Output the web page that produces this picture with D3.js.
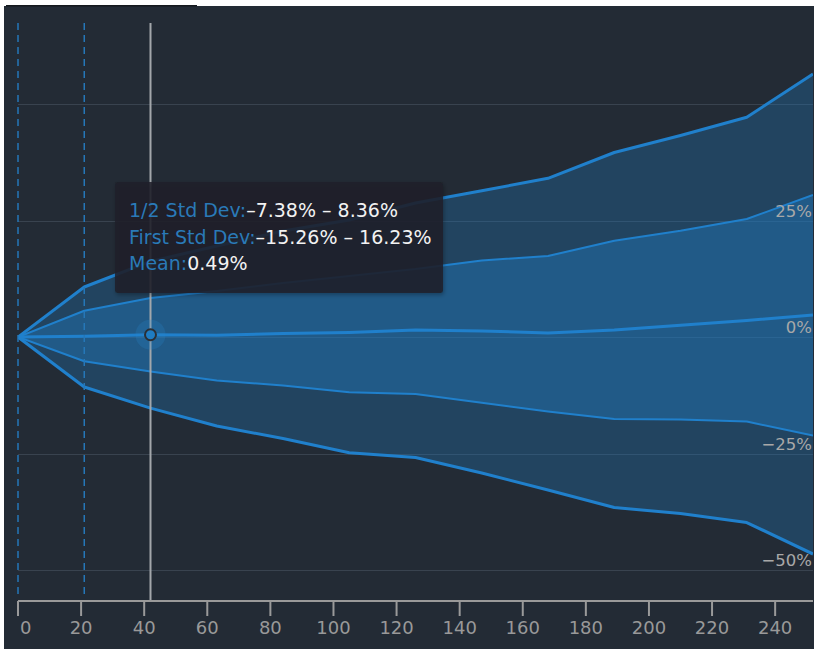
<!DOCTYPE html>
<html>
<head>
<meta charset="utf-8">
<script src="https://cdn.jsdelivr.net/npm/d3@7"></script>
<style>
  html, body { margin: 0; padding: 0; background: #ffffff; }
  svg { display: block; font-family: "DejaVu Sans", sans-serif; }
</style>
</head>
<body>
<svg id="chart" width="814" height="649"></svg>
<script>
// ---- Data (trading days, % returns) ----
const days = [0, 21, 42, 63, 84, 105, 126, 147, 168, 189, 210, 231, 252];
const firstStdUpper = [0, 10.73, 16.23, 19.53, 22.75, 25.11, 28.76, 31.39, 34.06, 39.6, 43.24, 47.15, 56.44];
const halfStdUpper  = [0, 5.64, 8.36, 9.87, 11.59, 13.09, 14.59, 16.42, 17.38, 20.67, 22.81, 25.32, 30.47];
const meanValues    = [0, 0.17, 0.49, 0.36, 0.75, 0.97, 1.50, 1.29, 0.86, 1.50, 2.51, 3.54, 4.72];
const halfStdLower  = [0, -5.21, -7.38, -9.33, -10.41, -11.87, -12.23, -14.10, -15.99, -17.60, -17.70, -18.13, -21.14];
const firstStdLower = [0, -10.73, -15.26, -19.10, -21.78, -24.83, -25.86, -29.18, -32.83, -36.59, -37.88, -39.81, -46.57];

const xTicks = [0, 20, 40, 60, 80, 100, 120, 140, 160, 180, 200, 220, 240];
const yGridTicks = [-50, -25, 0, 25, 50];
const yLabelTicks = [-50, -25, 0, 25];
const markerDays = [0, 21];
const hoverIndex = 2;

// ---- Layout ----
const W = 814, H = 649;
const plot = { left: 18, right: 813, top: 22, bottom: 601 };

const svg = d3.select("#chart");

// background
svg.append("rect").attr("x", 4).attr("y", 6).attr("width", W - 4).attr("height", H - 6).attr("fill", "#232b35");
svg.append("rect").attr("x", 6).attr("y", 5).attr("width", 191).attr("height", 1.5).attr("fill", "#15191e");

const x = d3.scaleLinear().domain([0, 252]).range([plot.left, plot.right]);
const y = d3.scaleLinear().domain([-56.65, 67.6]).range([plot.bottom, plot.top]);

const rows = days.map((d, i) => ({
  d, fu: firstStdUpper[i], hu: halfStdUpper[i], m: meanValues[i], hl: halfStdLower[i], fl: firstStdLower[i]
}));

// gridlines
svg.append("g").selectAll("line").data(yGridTicks).join("line")
  .attr("x1", plot.left).attr("x2", plot.right)
  .attr("y1", v => Math.round(y(v)) + 0.5).attr("y2", v => Math.round(y(v)) + 0.5)
  .attr("stroke", "#39434f").attr("stroke-width", 1.2);

const defs = svg.append("defs");
defs.append("clipPath").attr("id", "clip")
  .append("rect").attr("x", plot.left).attr("y", plot.top)
  .attr("width", plot.right - plot.left).attr("height", plot.bottom - plot.top);

const g = svg.append("g").attr("clip-path", "url(#clip)");

const lineColor = "#2080cc";

// outer band
g.append("path").datum(rows)
  .attr("d", d3.area().x(r => x(r.d)).y0(r => y(r.fl)).y1(r => y(r.fu)))
  .attr("fill", "rgba(33,125,196,0.30)");
// inner band
g.append("path").datum(rows)
  .attr("d", d3.area().x(r => x(r.d)).y0(r => y(r.hl)).y1(r => y(r.hu)))
  .attr("fill", "rgba(33,125,196,0.40)");

const mkLine = key => d3.line().x(r => x(r.d)).y(r => y(r[key]));
[["fu", 3], ["fl", 3], ["hu", 2], ["hl", 2], ["m", 3]].forEach(([k, w]) => {
  g.append("path").datum(rows).attr("d", mkLine(k))
    .attr("fill", "none").attr("stroke", lineColor).attr("stroke-width", w)
    .attr("stroke-linejoin", "round");
});

// dashed vertical markers
svg.append("g").selectAll("line").data(markerDays).join("line")
  .attr("x1", d => x(d)).attr("x2", d => x(d))
  .attr("y1", 23).attr("y2", 595)
  .attr("stroke", "#2577b8").attr("stroke-width", 1.5)
  .attr("stroke-dasharray", "7,5");

// crosshair
const hx = x(days[hoverIndex]);
svg.append("line").attr("x1", hx).attr("x2", hx).attr("y1", 23).attr("y2", plot.bottom)
  .attr("stroke", "#a3a7ab").attr("stroke-width", 2);

// hover marker
const hy = y(meanValues[hoverIndex]);
svg.append("circle").attr("cx", hx).attr("cy", hy).attr("r", 15).attr("fill", "rgba(40,130,200,0.25)");
svg.append("circle").attr("cx", hx).attr("cy", hy).attr("r", 5.5)
  .attr("fill", "#1f7cc2").attr("stroke", "#2b2f35").attr("stroke-width", 2);

// x axis
const axisG = svg.append("g");
axisG.append("line").attr("x1", plot.left).attr("x2", plot.right)
  .attr("y1", plot.bottom).attr("y2", plot.bottom)
  .attr("stroke", "#9a9a9a").attr("stroke-width", 2);
axisG.selectAll("line.tick").data(xTicks).join("line").attr("class", "tick")
  .attr("x1", d => x(d)).attr("x2", d => x(d))
  .attr("y1", plot.bottom).attr("y2", plot.bottom + 15)
  .attr("stroke", "#9a9a9a").attr("stroke-width", 2);
axisG.selectAll("text").data(xTicks).join("text")
  .attr("x", d => d === 0 ? x(d) + 2 : x(d))
  .attr("y", 634)
  .attr("text-anchor", d => d === 0 ? "start" : "middle")
  .attr("fill", "#999999").attr("font-size", 18)
  .text(d => d);

// y labels (right, inside)
const fmtPct = v => (v < 0 ? "\u2212" + Math.abs(v) : v) + "%";
svg.append("g").selectAll("text").data(yLabelTicks).join("text")
  .attr("x", 812).attr("y", v => y(v) - 4)
  .attr("text-anchor", "end")
  .attr("fill", "#a8a8a8").attr("font-size", 16.5)
  .text(fmtPct);

// tooltip
const tt = svg.append("g");
const filt = defs.append("filter").attr("id", "shadow").attr("x", "-10%").attr("y", "-10%").attr("width", "120%").attr("height", "130%");
filt.append("feDropShadow").attr("dx", 1).attr("dy", 2).attr("stdDeviation", 2).attr("flood-color", "#000").attr("flood-opacity", 0.35);
tt.append("rect").attr("x", 115).attr("y", 182).attr("width", 328).attr("height", 111).attr("rx", 3)
  .attr("fill", "rgba(28,34,42,0.86)").attr("filter", "url(#shadow)");

const fmt = v => (v < 0 ? "\u2013" + Math.abs(v).toFixed(2) : v.toFixed(2)) + "%";
const ttLines = [
  ["1/2 Std Dev:", fmt(halfStdLower[hoverIndex]) + " \u2013 " + fmt(halfStdUpper[hoverIndex])],
  ["First Std Dev:", fmt(firstStdLower[hoverIndex]) + " \u2013 " + fmt(firstStdUpper[hoverIndex])],
  ["Mean:", fmt(meanValues[hoverIndex])]
];
ttLines.forEach(([label, val], i) => {
  const t = tt.append("text").attr("x", 129).attr("y", 217 + i * 26.5).attr("font-size", 19);
  t.append("tspan").attr("fill", "#2a7ab8").text(label);
  t.append("tspan").attr("fill", "#f2f2f2").text(val);
});
</script>
</body>
</html>
